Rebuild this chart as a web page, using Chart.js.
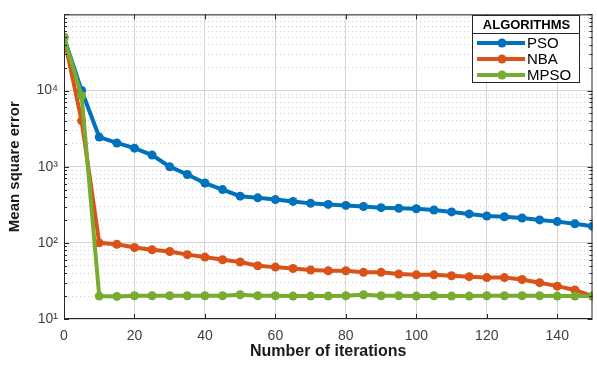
<!DOCTYPE html>
<html>
<head>
<meta charset="utf-8">
<script src="https://cdn.jsdelivr.net/npm/chart.js@4/dist/chart.umd.min.js"></script>
<style>
  html, body { margin: 0; padding: 0; background: #fff; }
  #box { width: 597px; height: 365px; }
</style>
</head>
<body>
<div id="box"><canvas id="chart"></canvas></div>
<script>
// iterations (every 5th)
var iterations = [0, 5, 10, 15, 20, 25, 30, 35, 40, 45, 50, 55, 60, 65, 70, 75,
    80, 85, 90, 95, 100, 105, 110, 115, 120, 125, 130, 135, 140, 145, 150];

var psoErr = [50000, 10000, 2450, 2050, 1750, 1420, 1000, 790, 610, 500, 410, 390,
    370, 350, 330, 320, 310, 300, 290, 285, 280, 270, 255, 240, 225, 220, 212, 200,
    190, 178, 165];
var nbaErr = [50000, 4000, 100, 96, 87, 81, 77, 70, 65, 60, 56, 50, 48, 46, 44, 43,
    43, 41, 41, 39, 38, 38, 37, 36, 35, 35, 33, 30, 27, 24, 20];
var mpsoErr = [50000, 8500, 20, 19.8, 20.2, 20.2, 20.2, 20.2, 20.2, 20.2, 20.8, 20.2,
    20.2, 20, 20, 20, 20.2, 20.8, 20.2, 20.2, 20, 20.2, 20, 20, 20.2, 20.2, 20.2,
    20.2, 20, 20, 20];

var seriesNames = ["PSO", "NBA", "MPSO"];
var seriesColors = ["#0072BD", "#D95319", "#77AC30"];

var xTicks = [0, 20, 40, 60, 80, 100, 120, 140];
var yMajor = [10, 100, 1000, 10000, 100000];
var yLabels = { 10: "10\u00B9", 100: "10\u00B2", 1000: "10\u00B3", 10000: "10\u2074", 100000: "" };

function pts(ys) {
    return iterations.map(function (x, i) { return { x: x, y: ys[i] }; });
}

function isMajor(v) {
    return yMajor.indexOf(v) >= 0;
}

// all log ticks 10..1e5 (major + minor)
var yAllTicks = [];
for (var d = 10; d < 100000; d *= 10) {
    for (var m = 1; m < 10; m++) yAllTicks.push(d * m);
}
yAllTicks.push(100000);

var font = "'Liberation Sans', Arial, Helvetica, sans-serif";

var frame = {
    id: "frame",
    afterDatasetsDraw: function (chart) {
        var ctx = chart.ctx, a = chart.chartArea;
        var xs = chart.scales.x, ys = chart.scales.y;
        ctx.save();
        ctx.strokeStyle = "#262626";
        ctx.lineWidth = 1;
        ctx.strokeRect(a.left + 0.5, a.top + 0.5, a.right - a.left - 1, a.bottom - a.top - 1);
        // inner tick marks
        ctx.beginPath();
        xTicks.forEach(function (v) {
            var px = Math.round(xs.getPixelForValue(v)) + 0.5;
            ctx.moveTo(px, a.bottom); ctx.lineTo(px, a.bottom - 5);
            ctx.moveTo(px, a.top); ctx.lineTo(px, a.top + 5);
        });
        yAllTicks.forEach(function (v) {
            var py = Math.round(ys.getPixelForValue(v)) + 0.5;
            var len = isMajor(v) ? 5 : 3;
            ctx.moveTo(a.left, py); ctx.lineTo(a.left + len, py);
            ctx.moveTo(a.right, py); ctx.lineTo(a.right - len, py);
        });
        ctx.stroke();

        // legend box
        var lx = 472, ly = 15, lw = 107, lh = 67;
        ctx.fillStyle = "#fff";
        ctx.fillRect(lx, ly, lw, lh);
        ctx.strokeStyle = "#262626";
        ctx.strokeRect(lx + 0.5, ly + 0.5, lw, lh);
        ctx.beginPath();
        ctx.moveTo(lx, ly + 18.5); ctx.lineTo(lx + lw, ly + 18.5);
        ctx.stroke();
        ctx.fillStyle = "#000";
        ctx.font = "bold 13px " + font;
        ctx.textAlign = "center";
        ctx.textBaseline = "middle";
        ctx.fillText("ALGORITHMS", lx + lw / 2 + 1, ly + 10);
        ctx.font = "15px " + font;
        ctx.textAlign = "left";
        seriesNames.forEach(function (name, i) {
            var yy = ly + 28 + i * 16;
            ctx.strokeStyle = seriesColors[i];
            ctx.lineWidth = 4;
            ctx.beginPath();
            ctx.moveTo(lx + 5, yy); ctx.lineTo(lx + 53, yy);
            ctx.stroke();
            ctx.fillStyle = seriesColors[i];
            ctx.beginPath();
            ctx.arc(lx + 30, yy, 4.5, 0, Math.PI * 2);
            ctx.fill();
            ctx.fillStyle = "#000";
            ctx.fillText(name, lx + 55, yy + 1);
        });
        ctx.restore();
    }
};

var series = [psoErr, nbaErr, mpsoErr];
var datasets = series.map(function (s, i) {
    return {
        label: seriesNames[i],
        data: pts(s),
        borderColor: seriesColors[i],
        backgroundColor: seriesColors[i],
        borderWidth: 4,
        pointRadius: 4.5,
        pointBorderWidth: 0,
        tension: 0,
        order: 2 - i
    };
});

new Chart(document.getElementById("chart"), {
    type: "line",
    data: { datasets: datasets },
    options: {
        responsive: true,
        maintainAspectRatio: false,
        animation: false,
        layout: { padding: { top: 5, right: 3, left: 0, bottom: 0 } },
        plugins: {
            legend: { display: false },
            tooltip: { enabled: false }
        },
        scales: {
            x: {
                type: "linear",
                min: 0,
                max: 150,
                afterBuildTicks: function (scale) {
                    scale.ticks = xTicks.map(function (v) { return { value: v }; });
                },
                afterFit: function (scale) { scale.height = 46; },
                ticks: {
                    color: "#404040",
                    font: { family: font, size: 14 },
                    padding: 9,
                    maxRotation: 0
                },
                grid: {
                    color: "#d4d4d4",
                    drawTicks: false
                },
                border: { display: false },
                title: {
                    display: true,
                    text: "Number of iterations",
                    color: "#1a1a1a",
                    font: { family: font, size: 16, weight: "bold" },
                    padding: { top: 0, bottom: 4 }
                }
            },
            y: {
                type: "logarithmic",
                min: 10,
                max: 100000,
                afterBuildTicks: function (scale) {
                    scale.ticks = yAllTicks.map(function (v) { return { value: v, major: isMajor(v) }; });
                },
                afterFit: function (scale) { scale.width = 64; },
                ticks: {
                    color: "#404040",
                    font: { family: font, size: 14 },
                    padding: 6,
                    autoSkip: false,
                    callback: function (v) {
                        return isMajor(v) ? yLabels[v] : "";
                    }
                },
                grid: {
                    color: function (c) {
                        return c.tick && isMajor(c.tick.value) ? "#d4d4d4" : "#cfcfcf";
                    },
                    drawTicks: false
                },
                border: {
                    display: false,
                    dash: function (c) {
                        return c.tick && isMajor(c.tick.value) ? [] : [1, 3];
                    }
                },
                title: {
                    display: true,
                    text: "Mean square error",
                    color: "#1a1a1a",
                    font: { family: font, size: 15, weight: "bold" },
                    padding: { top: 6, bottom: 0 }
                }
            }
        }
    },
    plugins: [frame]
});
</script>
</body>
</html>
